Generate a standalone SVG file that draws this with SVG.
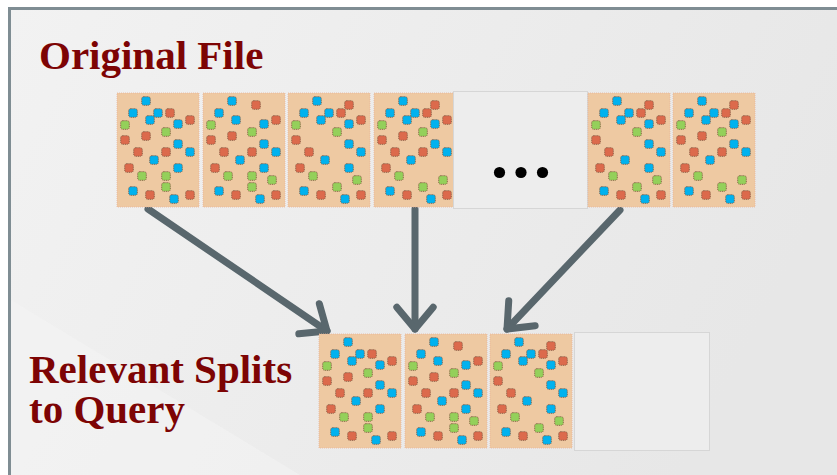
<svg xmlns="http://www.w3.org/2000/svg" xmlns:xlink="http://www.w3.org/1999/xlink" width="837" height="475" viewBox="0 0 837 475">
  <style>
    .title { font-family: "Liberation Serif", "Times New Roman", serif; font-weight: bold; font-size: 41px; fill: #7d0404; }
    .tile { fill: #eec9a2; stroke: #e9b59a; stroke-width: 0.8; stroke-dasharray: 1 1; }
    .blank { fill: #ededed; stroke: #d6d6d6; stroke-width: 1; }
    .sq { stroke: #7e5640; stroke-width: 0.9; stroke-dasharray: 1 0.8; }
    .b { fill: #00b2ef; }
    .r { fill: #dc6a4c; }
    .g { fill: #94d05a; }
    .link { fill: none; stroke: #59676d; stroke-width: 7; stroke-linecap: round; }
  </style>
  <defs>
    <linearGradient id="bg" x1="0" y1="0" x2="1" y2="0.3">
      <stop offset="0" stop-color="#f2f2f2"/>
      <stop offset="1" stop-color="#e7e7e7"/>
    </linearGradient>
    <marker id="head" viewBox="-4 -4 5 8" markerWidth="5" markerHeight="8" refX="0" refY="0" orient="auto" markerUnits="strokeWidth" overflow="visible">
      <path d="M-3.1,-2.6 L0,0 L-3.1,2.6" fill="none" stroke="#59676d" stroke-width="1" stroke-linecap="round" stroke-linejoin="round"/>
    </marker>
    <!-- record squares -->
    <rect id="sb" class="sq b" x="-4.3" y="-4.3" width="8.6" height="8.6" rx="2"/>
    <rect id="sr" class="sq r" x="-4.3" y="-4.3" width="8.6" height="8.6" rx="2"/>
    <rect id="sg" class="sq g" x="-4.3" y="-4.3" width="8.6" height="8.6" rx="2"/>
    <!-- split layouts -->
    <g id="p1">
      <rect class="tile" x="0" y="0" width="82" height="114"/>
      <use xlink:href="#sb" x="29" y="8"/>
      <use xlink:href="#sb" x="16" y="20"/>
      <use xlink:href="#sb" x="41" y="20"/>
      <use xlink:href="#sr" x="53" y="20"/>
      <use xlink:href="#sb" x="33" y="27"/>
      <use xlink:href="#sg" x="8" y="32"/>
      <use xlink:href="#sb" x="61" y="31"/>
      <use xlink:href="#sr" x="73" y="27"/>
      <use xlink:href="#sg" x="49" y="39"/>
      <use xlink:href="#sr" x="8" y="47"/>
      <use xlink:href="#sr" x="29" y="43"/>
      <use xlink:href="#sb" x="61" y="51"/>
      <use xlink:href="#sr" x="21" y="59"/>
      <use xlink:href="#sr" x="49" y="59"/>
      <use xlink:href="#sb" x="73" y="59"/>
      <use xlink:href="#sb" x="37" y="67"/>
      <use xlink:href="#sr" x="12" y="75"/>
      <use xlink:href="#sb" x="61" y="75"/>
      <use xlink:href="#sg" x="25" y="83"/>
      <use xlink:href="#sg" x="49" y="83"/>
      <use xlink:href="#sg" x="49" y="94"/>
      <use xlink:href="#sb" x="16" y="98"/>
      <use xlink:href="#sr" x="33" y="102"/>
      <use xlink:href="#sr" x="73" y="102"/>
      <use xlink:href="#sb" x="57" y="106"/>
    </g>
    <g id="p2">
      <rect class="tile" x="0" y="0" width="82" height="114"/>
      <use xlink:href="#sb" x="29" y="8"/>
      <use xlink:href="#sr" x="53" y="12"/>
      <use xlink:href="#sb" x="16" y="20"/>
      <use xlink:href="#sb" x="33" y="27"/>
      <use xlink:href="#sg" x="8" y="32"/>
      <use xlink:href="#sb" x="61" y="31"/>
      <use xlink:href="#sr" x="73" y="27"/>
      <use xlink:href="#sg" x="49" y="39"/>
      <use xlink:href="#sr" x="8" y="47"/>
      <use xlink:href="#sr" x="29" y="43"/>
      <use xlink:href="#sb" x="61" y="51"/>
      <use xlink:href="#sr" x="21" y="59"/>
      <use xlink:href="#sr" x="49" y="59"/>
      <use xlink:href="#sb" x="73" y="59"/>
      <use xlink:href="#sb" x="37" y="67"/>
      <use xlink:href="#sr" x="12" y="75"/>
      <use xlink:href="#sb" x="61" y="75"/>
      <use xlink:href="#sg" x="25" y="83"/>
      <use xlink:href="#sg" x="49" y="83"/>
      <use xlink:href="#sg" x="69" y="87"/>
      <use xlink:href="#sg" x="49" y="94"/>
      <use xlink:href="#sb" x="16" y="98"/>
      <use xlink:href="#sr" x="33" y="102"/>
      <use xlink:href="#sr" x="73" y="102"/>
      <use xlink:href="#sb" x="57" y="106"/>
    </g>
    <g id="p3">
      <rect class="tile" x="0" y="0" width="82" height="114"/>
      <use xlink:href="#sb" x="29" y="8"/>
      <use xlink:href="#sr" x="61" y="12"/>
      <use xlink:href="#sb" x="16" y="20"/>
      <use xlink:href="#sb" x="41" y="20"/>
      <use xlink:href="#sr" x="53" y="20"/>
      <use xlink:href="#sb" x="33" y="27"/>
      <use xlink:href="#sg" x="8" y="32"/>
      <use xlink:href="#sb" x="61" y="31"/>
      <use xlink:href="#sr" x="73" y="27"/>
      <use xlink:href="#sg" x="49" y="39"/>
      <use xlink:href="#sr" x="8" y="47"/>
      <use xlink:href="#sb" x="61" y="51"/>
      <use xlink:href="#sr" x="21" y="59"/>
      <use xlink:href="#sb" x="73" y="59"/>
      <use xlink:href="#sb" x="37" y="67"/>
      <use xlink:href="#sr" x="12" y="75"/>
      <use xlink:href="#sb" x="61" y="75"/>
      <use xlink:href="#sg" x="25" y="83"/>
      <use xlink:href="#sg" x="69" y="87"/>
      <use xlink:href="#sg" x="49" y="94"/>
      <use xlink:href="#sb" x="16" y="98"/>
      <use xlink:href="#sr" x="33" y="102"/>
      <use xlink:href="#sr" x="73" y="102"/>
      <use xlink:href="#sb" x="57" y="106"/>
    </g>
    <g id="p4">
      <rect class="tile" x="0" y="0" width="82" height="114"/>
      <use xlink:href="#sb" x="29" y="8"/>
      <use xlink:href="#sr" x="61" y="12"/>
      <use xlink:href="#sb" x="16" y="20"/>
      <use xlink:href="#sb" x="41" y="20"/>
      <use xlink:href="#sr" x="53" y="20"/>
      <use xlink:href="#sb" x="33" y="27"/>
      <use xlink:href="#sg" x="8" y="32"/>
      <use xlink:href="#sb" x="61" y="31"/>
      <use xlink:href="#sr" x="73" y="27"/>
      <use xlink:href="#sg" x="49" y="39"/>
      <use xlink:href="#sr" x="8" y="47"/>
      <use xlink:href="#sr" x="29" y="43"/>
      <use xlink:href="#sb" x="61" y="51"/>
      <use xlink:href="#sr" x="21" y="59"/>
      <use xlink:href="#sr" x="49" y="59"/>
      <use xlink:href="#sb" x="73" y="59"/>
      <use xlink:href="#sb" x="37" y="67"/>
      <use xlink:href="#sr" x="12" y="75"/>
      <use xlink:href="#sg" x="25" y="83"/>
      <use xlink:href="#sg" x="69" y="87"/>
      <use xlink:href="#sg" x="49" y="94"/>
      <use xlink:href="#sb" x="16" y="98"/>
      <use xlink:href="#sr" x="33" y="102"/>
      <use xlink:href="#sr" x="73" y="102"/>
      <use xlink:href="#sb" x="57" y="106"/>
    </g>
  </defs>

  <!-- page and framed panel -->
  <rect x="0" y="0" width="837" height="475" fill="#ffffff"/>
  <rect x="9.5" y="8.5" width="840" height="480" fill="url(#bg)" stroke="#7f8d93" stroke-width="3"/>
  <polygon points="11,475 11,300 300,475" fill="#f4f4f4" opacity="0.6"/>

  <!-- connectors -->
  <g id="connectors">
    <line class="link" x1="148" y1="209" x2="327" y2="331" marker-end="url(#head)"/>
    <line class="link" x1="415" y1="209" x2="415" y2="329" marker-end="url(#head)"/>
    <line class="link" x1="620" y1="210" x2="507" y2="329" marker-end="url(#head)"/>
  </g>

  <!-- original file splits -->
  <g id="split-1"><use xlink:href="#p1" x="117" y="93"/></g>
  <g id="split-2"><use xlink:href="#p2" x="203" y="93"/></g>
  <g id="split-3"><use xlink:href="#p3" x="288" y="93"/></g>
  <g id="split-4"><use xlink:href="#p4" x="374" y="93"/></g>
  <g id="split-gap">
    <rect class="blank" x="453.5" y="91.5" width="134" height="117"/>
    <circle cx="499.5" cy="172.5" r="5.6" fill="#000"/>
    <circle cx="521" cy="172.5" r="5.6" fill="#000"/>
    <circle cx="542.5" cy="172.5" r="5.6" fill="#000"/>
  </g>
  <g id="split-5"><use xlink:href="#p3" x="588" y="93"/></g>
  <g id="split-6"><use xlink:href="#p4" x="673" y="93"/></g>

  <!-- relevant splits -->
  <g id="relevant-1"><use xlink:href="#p1" x="319" y="334"/></g>
  <g id="relevant-2"><use xlink:href="#p2" x="405" y="334"/></g>
  <g id="relevant-3"><use xlink:href="#p3" x="490" y="334"/></g>
  <g id="relevant-empty"><rect class="blank" x="574.5" y="332.5" width="135" height="118"/></g>

  <!-- labels -->
  <g id="label-original"><text class="title" x="39" y="69">Original File</text></g>
  <g id="label-relevant">
    <text class="title" x="29" y="383"><tspan x="29" y="383">Relevant Splits</tspan><tspan x="29" y="422.5">to Query</tspan></text>
  </g>
</svg>
